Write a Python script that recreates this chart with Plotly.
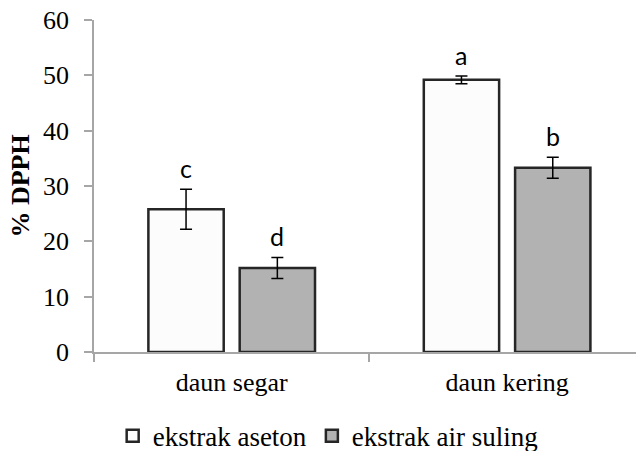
import plotly.graph_objects as go

categories = ["daun segar", "daun kering"]
series_names = ["ekstrak aseton", "ekstrak air suling"]
aseton_values = [25.8, 49.2]
aseton_errors = [3.6, 0.7]
air_values = [15.2, 33.3]
air_errors = [1.9, 1.9]
aseton_letters = ["c", "a"]
air_letters = ["d", "b"]
y_ticks = [0, 10, 20, 30, 40, 50, 60]

serif = "Liberation Serif"
axis_grey = "#a6a6a6"

fig = go.Figure()
fig.add_trace(go.Bar(
    name=series_names[0], x=categories, y=aseton_values,
    marker=dict(color="#fcfcfc", line=dict(color="#262626", width=2.5)),
    error_y=dict(type="data", array=aseton_errors, color="#000000", thickness=1.5, width=6),
))
fig.add_trace(go.Bar(
    name=series_names[1], x=categories, y=air_values,
    marker=dict(color="#b2b2b2", line=dict(color="#262626", width=2.5)),
    error_y=dict(type="data", array=air_errors, color="#000000", thickness=1.5, width=6),
))

# significance letters above error bars
bar_offset = 0.166
for i, cat in enumerate(categories):
    for vals, errs, letters, sign in ((aseton_values, aseton_errors, aseton_letters, -1),
                                      (air_values, air_errors, air_letters, 1)):
        fig.add_annotation(
            x=i + sign * bar_offset, y=vals[i] + errs[i], text=letters[i],
            showarrow=False, yanchor="bottom", yshift=4,
            font=dict(family="Lato", size=25, color="#000000"),
        )

fig.update_layout(
    width=636, height=451,
    margin=dict(l=94, r=0, t=20, b=99, autoexpand=False),
    paper_bgcolor="white", plot_bgcolor="white",
    barmode="group", bargap=0.337, bargroupgap=0.175,
    font=dict(family=serif, size=26, color="#000000"),
    showlegend=True,
    legend=dict(orientation="h", xref="container", yref="container",
                x=0.516, xanchor="center", y=0.033, yanchor="middle",
                font=dict(family=serif, size=27), itemwidth=30, tracegroupgap=0),
)
fig.update_xaxes(
    type="category", range=[-0.5, 1.468], automargin=False,
    showline=True, linecolor=axis_grey, linewidth=1.5,
    ticks="outside", tickson="boundaries", ticklen=8, tickcolor=axis_grey, tickwidth=1.5,
    showgrid=False, ticklabelstandoff=6, tickfont=dict(family=serif, size=26),
)
fig.update_yaxes(
    range=[0, 60], tickvals=y_ticks, automargin=False,
    showline=True, linecolor=axis_grey, linewidth=1.5,
    ticks="outside", ticklen=8, tickcolor=axis_grey, tickwidth=1.5,
    showgrid=False, zeroline=False, ticklabelstandoff=10,
    tickfont=dict(family=serif, size=26),
    title=dict(text="<b>% DPPH</b>", font=dict(family=serif, size=26), standoff=6),
)

fig.write_html("out.html", config={"displayModeBar": False},
               post_script="document.body.style.margin='0';")
